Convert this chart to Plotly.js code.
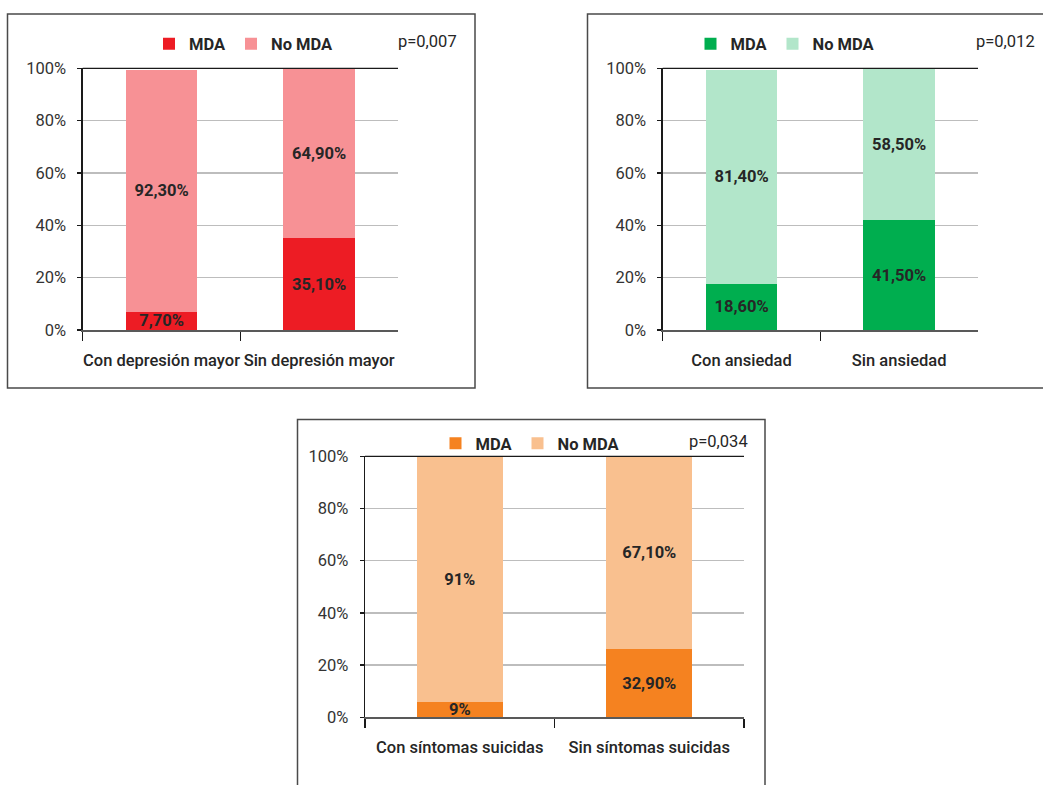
<!DOCTYPE html>
<html>
<head>
<meta charset="utf-8">
<script src="https://cdn.plot.ly/plotly-3.0.1.min.js"></script>
<style>
  html, body { margin: 0; padding: 0; background: #fff; }
  #chart { width: 1043px; height: 785px; }
</style>
</head>
<body>
<div id="chart"></div>
<script>
// ---- Data ----
const yTicks = [0, 20, 40, 60, 80, 100];
const yTickText = ['0%', '20%', '40%', '60%', '80%', '100%'];
const legendNames = ['MDA', 'No MDA'];

const cats1 = ['Con depresión mayor', 'Sin depresión mayor'];
const mda1 = [7, 35.1];
const noMda1 = [92.3, 64.9];
const mdaLabels1 = ['7,70%', '35,10%'];
const noMdaLabels1 = ['92,30%', '64,90%'];
const pValue1 = 'p=0,007';

const cats2 = ['Con ansiedad', 'Sin ansiedad'];
const mda2 = [17.6, 42];
const noMda2 = [81.9, 58];
const mdaLabels2 = ['18,60%', '41,50%'];
const noMdaLabels2 = ['81,40%', '58,50%'];
const pValue2 = 'p=0,012';

const cats3 = ['Con síntomas suicidas', 'Sin síntomas suicidas'];
const mda3 = [6, 26];
const noMda3 = [93.8, 74];
const mdaLabels3 = ['9%', '32,90%'];
const noMdaLabels3 = ['91%', '67,10%'];
const pValue3 = 'p=0,034';

// ---- Styles ----
const FONT = 'Roboto, "Noto Sans", sans-serif';
const TXT = '#262626';
const FS = 16.5;
const colors = [
  ['#ED1C24', '#F79195'],
  ['#00AE4F', '#B2E6CA'],
  ['#F58220', '#F9C08F']
];

const W = 1043, H = 785;
const px = v => v / W;
const py = v => 1 - v / H;

const panels = [
  { cats: cats1, mda: mda1, no: noMda1, ml: mdaLabels1, nl: noMdaLabels1, p: pValue1,
    xd: [px(82.7), px(398)], yd: [py(330), py(68.3)],
    box: [px(7.5), px(475), py(388), py(14)], leg: [px(244), py(44)], pv: [px(459), py(42)] },
  { cats: cats2, mda: mda2, no: noMda2, ml: mdaLabels2, nl: noMdaLabels2, p: pValue2,
    xd: [px(662.7), px(978)], yd: [py(330), py(68.3)],
    box: [px(587.5), 1.01, py(388), py(14)], leg: [px(785.5), py(44)], pv: [px(1037), py(42)] },
  { cats: cats3, mda: mda3, no: noMda3, ml: mdaLabels3, nl: noMdaLabels3, p: pValue3,
    xd: [px(365), px(744)], yd: [py(717.3), py(456.3)],
    box: [px(297.5), px(765), -0.01, py(419.5)], leg: [px(530.5), py(443.5)], pv: [px(749.5), py(441)] }
];

const data = [];
const layout = {
  width: W, height: H,
  margin: { l: 0, r: 0, t: 0, b: 0 },
  paper_bgcolor: '#fff', plot_bgcolor: 'rgba(0,0,0,0)',
  barmode: 'stack',
  bargap: 0.545,
  uniformtext: { mode: 'show', minsize: FS },
  font: { family: FONT, color: TXT, size: FS },
  shapes: [],
  annotations: []
};

panels.forEach((p, i) => {
  const n = i === 0 ? '' : String(i + 1);
  const xa = 'x' + n, ya = 'y' + n, lg = 'legend' + n;
  const vals = [p.mda, p.no], labs = [p.ml, p.nl];
  for (let k = 0; k < 2; k++) {
    data.push({
      type: 'bar',
      x: p.cats, y: vals[k],
      name: legendNames[k],
      xaxis: xa, yaxis: ya, legend: lg,
      marker: { color: colors[i][k], line: { width: 0 } },
      text: labs[k], texttemplate: '%{text}',
      textposition: 'inside', insidetextanchor: 'middle', textangle: 0,
      constraintext: 'none',
      textfont: { family: FONT, size: FS, weight: 'bold', color: TXT },
      hoverinfo: 'skip'
    });
  }
  layout['xaxis' + n] = {
    domain: p.xd, anchor: ya, type: 'category',
    tickson: 'boundaries', ticks: 'outside', ticklen: 9, tickwidth: 1.3, tickcolor: '#1a1a1a',
    showline: true, linecolor: '#595959', linewidth: 2,
    showgrid: false, zeroline: false, tickangle: 0,
    tickfont: { family: FONT, size: FS, weight: 500, color: TXT },
    ticklabelstandoff: 14, fixedrange: true
  };
  layout['yaxis' + n] = {
    domain: p.yd, anchor: xa, range: [0, 100],
    tickmode: 'array', tickvals: yTicks, ticktext: yTickText,
    ticks: 'outside', ticklen: 4, tickwidth: 1.3, tickcolor: '#1a1a1a',
    showline: true, linecolor: '#1a1a1a', linewidth: 1.3,
    showgrid: true, gridcolor: '#BDBDBD', gridwidth: 1.3, zeroline: false,
    tickfont: { family: FONT, size: FS, color: '#333' },
    ticklabelstandoff: 8, fixedrange: true
  };
  layout[lg] = {
    orientation: 'h', x: p.leg[0], y: p.leg[1], xanchor: 'center', yanchor: 'middle',
    xref: 'paper', yref: 'paper',
    font: { family: FONT, size: FS, weight: 'bold', color: TXT },
    bgcolor: 'rgba(0,0,0,0)', itemwidth: 30, traceorder: 'normal', itemclick: false
  };
  layout.shapes.push({
    type: 'line', xref: xa + ' domain', yref: ya + ' domain',
    x0: 0, x1: 1, y0: 1, y1: 1, layer: 'above',
    line: { color: '#1a1a1a', width: 1.3 }
  });
  layout.shapes.push({
    type: 'rect', xref: 'paper', yref: 'paper',
    x0: p.box[0], x1: p.box[1], y0: p.box[2], y1: p.box[3],
    line: { color: '#4a4a4a', width: 1.5 }, fillcolor: 'rgba(0,0,0,0)'
  });
  layout.annotations.push({
    xref: 'paper', yref: 'paper', x: p.pv[0], y: p.pv[1],
    xanchor: 'right', yanchor: 'middle', showarrow: false,
    text: p.p, font: { family: FONT, size: FS, color: TXT }
  });
});

Plotly.newPlot('chart', data, layout, { displayModeBar: false, staticPlot: true });
</script>
</body>
</html>
